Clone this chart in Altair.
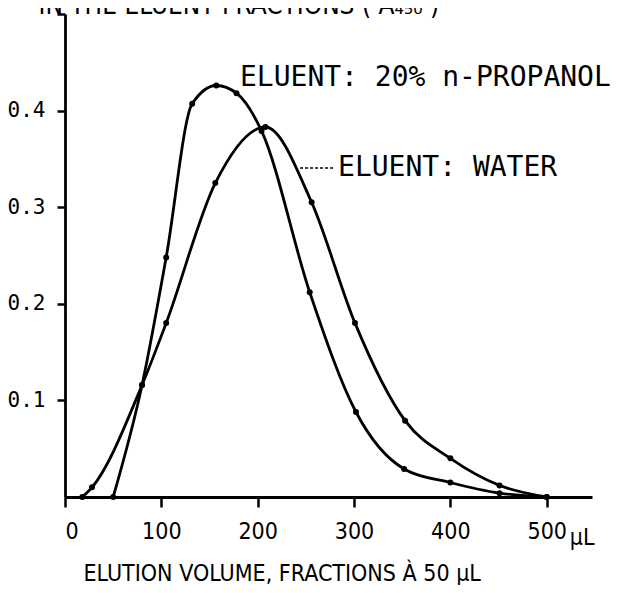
import altair as alt
import pandas as pd

# Eluent: 20% n-propanol
propanol_x = [50, 80, 105, 132, 157, 178, 204, 254, 302, 352, 400, 451, 500]
propanol_y = [0.0, 0.116, 0.248, 0.407, 0.426, 0.418, 0.379, 0.212, 0.088, 0.029, 0.015, 0.004, 0.0]
# Eluent: water
water_x = [18, 28, 80, 105, 156, 208, 256, 301, 353, 400, 451, 500]
water_y = [0.0, 0.01, 0.116, 0.18, 0.325, 0.383, 0.305, 0.18, 0.079, 0.04, 0.012, 0.0]

x_ticks = [0, 100, 200, 300, 400, 500]
y_ticks = [0.1, 0.2, 0.3, 0.4, 0.5]

label_text = ["ELUENT: 20% n-PROPANOL", "ELUENT: WATER"]
label_x = [181.6, 283.4]
label_y = [0.4337, 0.3406]

leader_x = [244]
leader_x2 = [280]
leader_y = [0.3406]

unit_text = ["μL"]
unit_x = [524]

COND = "DejaVu Sans Condensed, Liberation Sans Narrow, Roboto Condensed, DejaVu Sans"
MONO = "DejaVu Sans Mono"

df = pd.concat([
    pd.DataFrame({"x": propanol_x, "y": propanol_y, "series": "propanol"}),
    pd.DataFrame({"x": water_x, "y": water_y, "series": "water"}),
], ignore_index=True)

xs = alt.Scale(domain=[0, 547], nice=False, zero=False)
ys = alt.Scale(domain=[0, 0.5], nice=False)

x_axis = alt.Axis(
    values=x_ticks, grid=False, labelFont=COND, labelFontSize=23, labelColor="black",
    tickSize=10, tickWidth=2.5, tickColor="black", domainWidth=2.8, domainColor="black",
    labelPadding=13,
    title="ELUTION VOLUME, FRACTIONS À 50 μL", titleFont=COND, titleFontSize=23,
    titleFontWeight="normal", titleColor="black", titleX=18, titleY=76,
    titleAlign="left", titleBaseline="middle",
)
y_axis = alt.Axis(
    values=y_ticks, grid=False, labelFont=MONO, labelFontSize=21, labelColor="black",
    labelExpr="datum.value >= 0.45 ? '' : format(datum.value, '.1f')",
    tickSize=8, tickWidth=2.5, tickColor="black", domainWidth=2.8, domainColor="black",
    labelPadding=12,
    title="IN THE ELUENT FRACTIONS ( A₄₅₀ )", titleFont=COND, titleFontSize=26,
    titleFontWeight="normal", titleColor="black", titleAngle=0, titleX=-27, titleY=-1,
    titleAlign="left", titleBaseline="alphabetic",
)

base = alt.Chart(df)
lines = base.mark_line(interpolate="monotone", strokeWidth=2.8, color="black").encode(
    x=alt.X("x:Q", scale=xs, axis=x_axis),
    y=alt.Y("y:Q", scale=ys, axis=y_axis),
    detail="series:N",
)
dots = base.mark_circle(size=36, color="black", opacity=1).encode(
    x=alt.X("x:Q", scale=xs), y=alt.Y("y:Q", scale=ys)
)

labels = alt.Chart(pd.DataFrame({"t": label_text, "x": label_x, "y": label_y})).mark_text(
    font=MONO, fontSize=28, align="left", baseline="middle", color="black"
).encode(x=alt.X("x:Q", scale=xs), y=alt.Y("y:Q", scale=ys), text="t:N")

leader = alt.Chart(pd.DataFrame({"x": leader_x, "x2": leader_x2, "y": leader_y})).mark_rule(
    strokeDash=[3, 2], strokeWidth=1.5, color="black"
).encode(x=alt.X("x:Q", scale=xs), x2="x2:Q", y=alt.Y("y:Q", scale=ys))

unit = alt.Chart(pd.DataFrame({"t": unit_text, "x": unit_x})).mark_text(
    font=COND, fontSize=23, align="left", baseline="middle", color="black"
).encode(x=alt.X("x:Q", scale=xs), y=alt.value(524), text="t:N")

chart = alt.layer(lines, dots, labels, leader, unit).properties(
    width=527, height=483,
    autosize=alt.AutoSizeParams(type="none"),
    padding={"left": 57, "top": 6, "right": 18, "bottom": 88},
).configure_view(stroke=None)

chart.save("out.html", embed_options={"renderer": "svg", "actions": False})
